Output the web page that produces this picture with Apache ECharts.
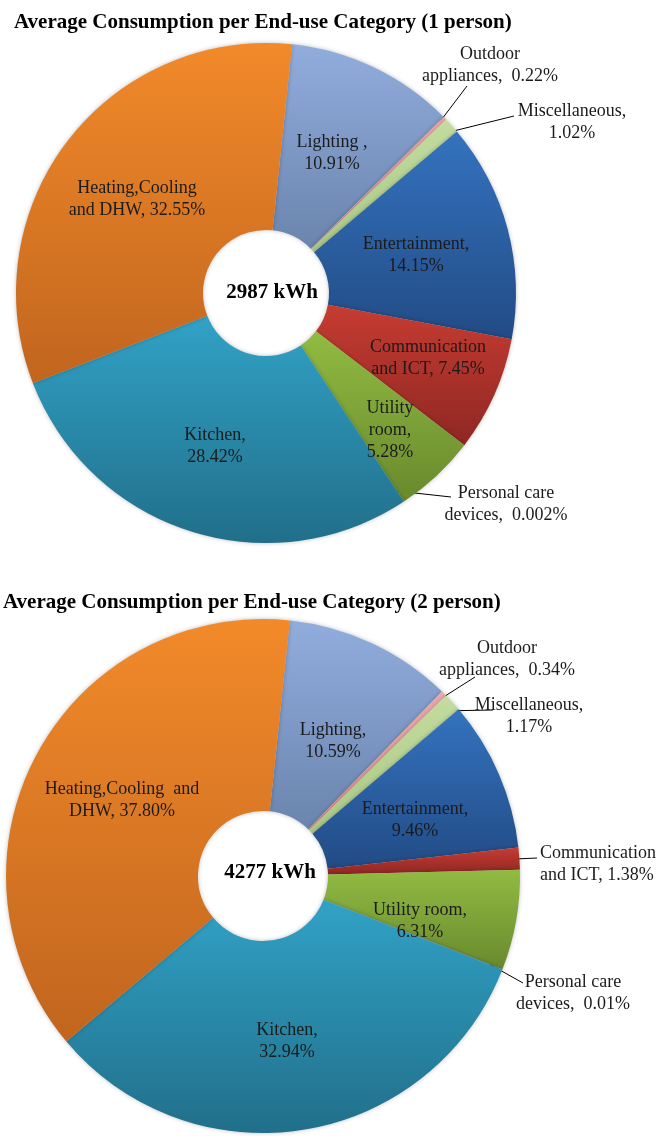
<!DOCTYPE html>
<html>
<head>
<meta charset="utf-8">
<title>Average Consumption per End-use Category</title>
<script src="https://cdn.jsdelivr.net/npm/echarts@6/dist/echarts.min.js"></script>
<style>
html, body { margin: 0; padding: 0; background: #fff; }
#chart { width: 657px; height: 1136px; }
</style>
</head>
<body>
<div id="chart"></div>
<script>
// slices in drawing order, clockwise from the top
const categories = ['Lighting', 'Outdoor appliances', 'Miscellaneous', 'Entertainment',
  'Communication and ICT', 'Utility room', 'Personal care devices', 'Kitchen', 'Heating,Cooling and DHW']

// share of the yearly consumption, %
const onePerson = [10.91, 0.22, 1.02, 14.15, 7.45, 5.28, 0.002, 28.42, 32.55]
const twoPerson = [10.59, 0.34, 1.17, 9.46, 1.38, 6.31, 0.01, 32.94, 37.80]

const totals = ['2987 kWh', '4277 kWh']
const titles = ['Average Consumption per End-use Category (1 person)',
  'Average Consumption per End-use Category (2 person)']

// label text, broken the way the original breaks it
const labelText1 = ['Lighting ,\n', 'Outdoor\nappliances,  ', 'Miscellaneous,\n', 'Entertainment,\n',
  'Communication\nand ICT, ', 'Utility\nroom,\n', 'Personal care\ndevices,  ', 'Kitchen,\n', 'Heating,Cooling\nand DHW, ']
const labelText2 = ['Lighting,\n', 'Outdoor\nappliances,  ', 'Miscellaneous,\n', 'Entertainment,\n',
  'Communication\nand ICT, ', 'Utility room,\n', 'Personal care\ndevices,  ', 'Kitchen,\n', 'Heating,Cooling  and\nDHW, ']

// slices whose label sits outside with a leader line
const outside1 = [1, 2, 6]
const outside2 = [1, 2, 4, 6]

// [top, bottom] of each slice gradient
const colors = [
  ['#91addd', '#6a84ad'],
  ['#eeaaa8', '#d98e8c'],
  ['#c3dc9f', '#a9c884'],
  ['#3473bf', '#224b85'],
  ['#c63c32', '#8f2723'],
  ['#91bb42', '#69892d'],
  ['#8064a2', '#5f4a7a'],
  ['#31a2c6', '#216f8a'],
  ['#f28a2a', '#c1651e']
]

// where each label is centred, and where leader lines end
const labelPos1 = [[332, 153], [490, 65], [572, 122], [416, 255], [428, 358], [390, 430], [506, 504], [215, 446], [137, 199]]
const labelPos2 = [[333, 741], [507, 659], [529, 716], [415, 820], [540, 864, 'left'], [420, 921], [573, 993], [287, 1041], [122, 800]]
const lineEnd1 = { 1: [467, 86], 2: [514, 116], 6: [451, 497] }
const lineEnd2 = { 1: [475, 677], 2: [493, 710], 4: [537, 858], 6: [523, 983] }

const centers = [[266, 293], [263, 876]]

const fmt = v => (v < 0.01 ? String(v) : v.toFixed(2))

function buildData (values, texts, outside) {
  return values.map((v, i) => {
    let item = {
      name: categories[i],
      value: v,
      itemStyle: {
        color: new echarts.graphic.LinearGradient(0, 0, 0, 1, [
          { offset: 0, color: colors[i][0] },
          { offset: 1, color: colors[i][1] }
        ])
      },
      label: { formatter: texts[i] + fmt(v) + '%' }
    }
    if (outside.indexOf(i) >= 0) {
      item.label.position = 'outside'
      item.labelLine = { show: true, length: 12, length2: 12, lineStyle: { color: '#000', width: 1 } }
    }
    return item
  })
}

function pieSeries (values, texts, outside, pos, ends, center, radius) {
  return {
    type: 'pie',
    center: center,
    radius: radius,
    startAngle: 84,
    clockwise: true,
    avoidLabelOverlap: false,
    silent: true,
    itemStyle: {
      shadowBlur: 4,
      shadowColor: 'rgba(0,0,0,0.25)'
    },
    label: {
      show: true,
      position: 'inside',
      fontFamily: 'Liberation Serif',
      fontSize: 18,
      lineHeight: 22,
      color: '#1b1b1b'
    },
    labelLine: { show: false },
    labelLayout: function (params) {
      let p = pos[params.dataIndex]
      let res = { x: p[0], y: p[1], align: p[2] || 'center', verticalAlign: 'middle' }
      let end = ends[params.dataIndex]
      if (end && params.labelLinePoints) {
        // start a little inside the slice edge, like the original
        let s = params.labelLinePoints[0]
        let k = 0.95
        res.labelLinePoints = [
          [center[0] + (s[0] - center[0]) * k, center[1] + (s[1] - center[1]) * k],
          end
        ]
      }
      return res
    },
    data: buildData(values, texts, outside)
  }
}

const chart = echarts.init(document.getElementById('chart'), null, { renderer: 'canvas' })

const titleStyle = { fontFamily: 'Liberation Serif', fontWeight: 'bold', fontSize: 21, color: '#000' }
const totalPos = [[272, 293], [270, 873]]

let option = {
  animation: false,
  title: [
    { text: titles[0], left: 14, top: 12, padding: 0, textStyle: titleStyle },
    { text: titles[1], left: 3, top: 592, padding: 0, textStyle: titleStyle }
  ],
  graphic: totals.map((t, i) => ({
    type: 'text',
    x: totalPos[i][0],
    y: totalPos[i][1],
    style: {
      text: t,
      align: 'center',
      verticalAlign: 'middle',
      fontFamily: 'Liberation Serif',
      fontWeight: 'bold',
      fontSize: 21,
      fill: '#000'
    }
  })),
  series: [
    pieSeries(onePerson, labelText1, outside1, labelPos1, lineEnd1, centers[0], [63, 250]),
    pieSeries(twoPerson, labelText2, outside2, labelPos2, lineEnd2, centers[1], [65, 257])
  ]
}

chart.setOption(option)
</script>
</body>
</html>
